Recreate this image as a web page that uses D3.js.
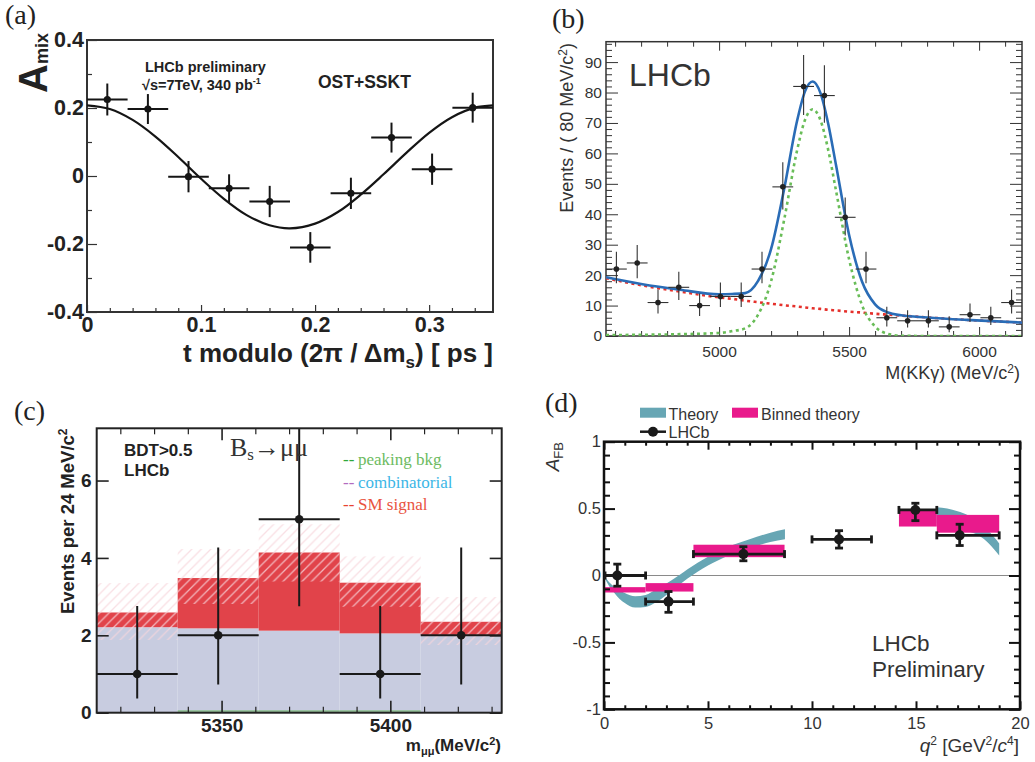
<!DOCTYPE html>
<html>
<head>
<meta charset="utf-8">
<script src="https://cdn.jsdelivr.net/npm/d3@7/dist/d3.min.js"></script>
<style>
  body { margin: 0; background: #fff; }
  svg { display: block; }
</style>
</head>
<body>
<div id="app"></div>
<script>
// ---------- (a) mixing asymmetry ----------
const mixT = [0.0178, 0.0534, 0.089, 0.1246, 0.1602, 0.1958, 0.2314, 0.267, 0.3026, 0.3382];
const mixA = [0.225, 0.197, -0.002, -0.036, -0.075, -0.21, -0.051, 0.113, 0.02, 0.201];
const mixErr = [0.047, 0.044, 0.046, 0.041, 0.046, 0.045, 0.046, 0.044, 0.046, 0.044];
const mixHalfBin = 0.0178;
const mixFitT = [0, 0.02, 0.04, 0.06, 0.08, 0.10, 0.12, 0.14, 0.16, 0.178, 0.20, 0.22, 0.24, 0.26, 0.28, 0.30, 0.32, 0.34, 0.356];
const mixFitA = [0.208, 0.197, 0.165, 0.116, 0.056, -0.008, -0.067, -0.115, -0.145, -0.154, -0.140, -0.106, -0.055, 0.005, 0.068, 0.127, 0.173, 0.201, 0.208];

// ---------- (b) M(KKgamma) ----------
const kkgMass = [4605, 4685, 4765, 4845, 4925, 5005, 5085, 5165, 5245, 5325, 5405, 5485, 5565, 5645, 5725, 5805, 5885, 5965, 6045, 6125];
const kkgEvents = [22, 24, 11, 16, 10, 13, 13, 22, 49, 82, 79, 39, 22, 6, 5, 5, 3, 7, 6, 11];
const kkgUp = [27.7, 29.9, 15.3, 21.1, 14, 17.6, 17.6, 27.7, 57.1, 92.3, 89, 45.5, 27.7, 9.6, 8.5, 8.5, 6.5, 10.7, 9.6, 15.3];
const kkgDn = [17.3, 19, 7.4, 11.8, 6.6, 9.5, 9.5, 17.3, 41.6, 72.6, 70.1, 33, 17.3, 3.1, 2.8, 2.8, 1.2, 4.6, 3.6, 7.4];
const kkgHalfBin = 40;
const fitMass = [4565, 4700, 4850, 5000, 5050, 5100, 5150, 5200, 5250, 5300, 5330, 5360, 5390, 5420, 5450, 5500, 5550, 5600, 5650, 5700, 5800, 5950, 6165];
const fitSignal = [0.3, 0.4, 0.6, 1.0, 1.6, 2.5, 7, 18, 38.1, 61, 70.9, 74.5, 70.9, 61, 47.6, 25.2, 10.1, 3.1, 0.7, 0.1, 0, 0, 0];
const fitBkg = [19, 16.7, 14.6, 12.7, 12.2, 11.6, 11.1, 10.6, 10.1, 9.7, 9.4, 9.1, 8.9, 8.6, 8.4, 8.0, 7.7, 7.3, 7.0, 6.7, 6.1, 5.3, 4.4];
const fitTotal = [19.3, 17.1, 15.2, 13.7, 13.8, 14.1, 18.1, 28.6, 48.2, 70.7, 80.3, 83.6, 79.8, 69.6, 56.0, 33.2, 17.8, 10.4, 7.7, 6.8, 6.1, 5.3, 4.4];

// ---------- (c) Bs -> mu mu ----------
const bsEdges = [5313, 5337, 5361, 5385, 5409, 5433];
const bsCombinatorial = [2.21, 2.18, 2.12, 2.05, 2.01];
const bsSMSignal = [0.38, 1.30, 2.02, 1.31, 0.34];
const bsPeaking = [0, 0.03, 0.03, 0.03, 0];
const bsBandLo = [1.88, 2.81, 3.39, 2.74, 1.75];
const bsBandHi = [3.35, 4.23, 4.87, 4.04, 2.99];
const bsObserved = [1, 2, 5, 1, 2];
const bsObsDn = [0.37, 0.73, 2.75, 0.37, 0.73];
const bsObsUp = [2.76, 4.27, 7.6, 2.76, 4.27];

// ---------- (d) A_FB vs q2 ----------
const thLowQ = [0, 0.25, 0.5, 0.75, 1, 1.5, 2, 2.5, 3, 3.5, 4, 5, 6, 7, 8, 8.7];
const thLowHi = [0.0, -0.05, -0.085, -0.11, -0.13, -0.155, -0.145, -0.105, -0.06, -0.01, 0.045, 0.14, 0.215, 0.27, 0.32, 0.345];
const thLowLo = [-0.01, -0.08, -0.13, -0.175, -0.205, -0.24, -0.235, -0.2, -0.145, -0.085, -0.025, 0.075, 0.15, 0.205, 0.25, 0.27];
const thHighQ = [16, 16.5, 17, 17.5, 18, 18.5, 19];
const thHighHi = [0.51, 0.5, 0.48, 0.45, 0.40, 0.33, 0.24];
const thHighLo = [0.39, 0.38, 0.36, 0.33, 0.30, 0.24, 0.15];
const binQLo = [0.05, 2, 4.3, 14.18, 16];
const binQHi = [2, 4.3, 8.68, 16, 19];
const binAfbLo = [-0.127, -0.12, 0.137, 0.366, 0.32];
const binAfbHi = [-0.087, -0.057, 0.23, 0.495, 0.453];
const lhcbQ = [0.64, 3.1, 6.7, 11.3, 14.97, 17.1];
const lhcbQLo = [0.05, 2.0, 4.3, 10.0, 14.18, 16.0];
const lhcbQHi = [2.0, 4.3, 8.68, 12.86, 16.0, 19.0];
const lhcbAfb = [0.0, -0.195, 0.16, 0.27, 0.49, 0.30];
const lhcbUp = [0.085, 0.075, 0.055, 0.065, 0.05, 0.083];
const lhcbDn = [0.08, 0.08, 0.05, 0.065, 0.08, 0.076];

const SANS = "'Liberation Sans', Arial, Helvetica, sans-serif";
const SERIF = "'Liberation Serif', 'Times New Roman', serif";

const svg = d3.select("#app").append("svg")
    .attr("width", 1035).attr("height", 762)
    .style("font-family", SANS);

const defs = svg.append("defs");

// ticks drawn inward, optional labels
function axis(g, gen, tr, values, size, o = {}) {
    const a = g.append("g").attr("transform", tr)
        .call(gen.tickValues(values).tickSize(-size).tickPadding(o.pad ?? 4)
            .tickFormat(o.fmt || (() => "")));
    a.attr("font-family", null).attr("font-size", null);
    a.select(".domain").remove();
    a.selectAll("line").attr("stroke", o.color || "#222").attr("stroke-width", o.sw || 1.2);
    a.selectAll("text").attr("fill", o.textColor || "#222")
        .style("font-size", (o.fs || 12) + "px").style("font-weight", o.fw || "normal");
    return a;
}

function clip(id, x, y) {
    defs.append("clipPath").attr("id", id).append("rect")
        .attr("x", x.range()[0]).attr("y", y.range()[1])
        .attr("width", x.range()[1] - x.range()[0]).attr("height", y.range()[0] - y.range()[1]);
    return `url(#${id})`;
}

function panelLabel(txt, x, y) {
    svg.append("text").attr("x", x).attr("y", y).text(txt)
        .style("font-family", SERIF).style("font-size", "28px").attr("fill", "#222");
}

// ===================== (a) =====================
{
    const x = d3.scaleLinear().domain([0, 0.356]).range([87, 493]);
    const y = d3.scaleLinear().domain([-0.4, 0.4]).range([312, 40]);
    const g = svg.append("g");
    const fmt = d => d === 0 ? "0" : d.toFixed(1);

    axis(g, d3.axisLeft(y), "translate(87,0)", [-0.3, -0.1, 0.1, 0.3], 5, { color: "#333" });
    axis(g, d3.axisLeft(y), "translate(87,0)", [-0.4, -0.2, 0, 0.2, 0.4], 10,
        { fmt, fs: 21.5, fw: "bold", pad: 3, color: "#333" });
    axis(g, d3.axisBottom(x), "translate(0,312)",
        [0.02, 0.04, 0.06, 0.08, 0.12, 0.14, 0.16, 0.18, 0.22, 0.24, 0.26, 0.28, 0.32, 0.34], 4, { color: "#333" });
    axis(g, d3.axisBottom(x), "translate(0,312)", [0, 0.1, 0.2, 0.3], 7,
        { fmt, fs: 21.5, fw: "bold", pad: 5, color: "#333" });

    g.append("rect").attr("x", 87).attr("y", 40).attr("width", 406).attr("height", 272)
        .attr("fill", "none").attr("stroke", "#333").attr("stroke-width", 2);

    g.append("path")
        .datum(mixFitT.map((t, i) => [t, mixFitA[i]]))
        .attr("clip-path", clip("clipA", x, y))
        .attr("d", d3.line().x(d => x(d[0])).y(d => y(d[1])).curve(d3.curveCatmullRom))
        .attr("fill", "none").attr("stroke", "#151515").attr("stroke-width", 2.2);

    const pts = g.selectAll(".pa").data(mixT).enter().append("g");
    pts.append("line")
        .attr("x1", d => x(d - mixHalfBin)).attr("x2", d => x(d + mixHalfBin))
        .attr("y1", (d, i) => y(mixA[i])).attr("y2", (d, i) => y(mixA[i]))
        .attr("stroke", "#151515").attr("stroke-width", 2);
    pts.append("line")
        .attr("x1", d => x(d)).attr("x2", d => x(d))
        .attr("y1", (d, i) => y(mixA[i] - mixErr[i])).attr("y2", (d, i) => y(mixA[i] + mixErr[i]))
        .attr("stroke", "#151515").attr("stroke-width", 2);
    pts.append("circle").attr("cx", d => x(d)).attr("cy", (d, i) => y(mixA[i]))
        .attr("r", 3.6).attr("fill", "#151515");

    g.append("text").attr("x", 145).attr("y", 72).text("LHCb preliminary")
        .style("font-size", "14.5px").style("font-weight", "bold").attr("fill", "#222");
    const t2 = g.append("text").attr("x", 142).attr("y", 90)
        .style("font-size", "14.5px").style("font-weight", "bold").attr("fill", "#222");
    t2.append("tspan").text("\u221As=7TeV, 340 pb");
    t2.append("tspan").attr("dy", -6).style("font-size", "9px").text("-1");
    g.append("text").attr("x", 318).attr("y", 88).text("OST+SSKT")
        .style("font-size", "17.5px").style("font-weight", "bold").attr("fill", "#222");

    const xt = g.append("text").attr("x", 493).attr("y", 362).attr("text-anchor", "end")
        .style("font-size", "26px").style("font-weight", "bold").attr("fill", "#222");
    xt.append("tspan").text("t modulo (2\u03C0 / \u0394m");
    xt.append("tspan").attr("dy", 6).style("font-size", "17px").text("s");
    xt.append("tspan").attr("dy", -6).text(") [ ps ]");

    const yt = g.append("text").attr("transform", "translate(47,33) rotate(-90)")
        .attr("text-anchor", "end").style("font-weight", "bold").attr("fill", "#222");
    yt.append("tspan").style("font-size", "40px").text("A");
    yt.append("tspan").attr("dy", 1).style("font-size", "18px").text("mix");

    panelLabel("(a)", 5, 24);
}

// ===================== (b) =====================
{
    const x = d3.scaleLinear().domain([4565, 6165]).range([606, 1022]);
    const y = d3.scaleLinear().domain([0, 96.7]).range([336, 41.7]);
    const g = svg.append("g");
    const c = "#333";
    const minorX = [4600, 4700, 4800, 4900, 5100, 5200, 5300, 5400, 5600, 5700, 5800, 5900, 6100];
    const minorY = [2, 4, 6, 8, 12, 14, 16, 18, 22, 24, 26, 28, 32, 34, 36, 38, 42, 44, 46, 48, 52, 54, 56, 58,
        62, 64, 66, 68, 72, 74, 76, 78, 82, 84, 86, 88, 92, 94, 96];
    const majorY = [0, 10, 20, 30, 40, 50, 60, 70, 80, 90];

    axis(g, d3.axisLeft(y), "translate(606,0)", minorY, 6, { color: c, sw: 1 });
    axis(g, d3.axisLeft(y), "translate(606,0)", majorY, 12,
        { fmt: d3.format("d"), fs: 15.5, pad: 4, color: c, textColor: "#333", sw: 1 });
    axis(g, d3.axisRight(y), "translate(1022,0)", minorY, 6, { color: c, sw: 1 });
    axis(g, d3.axisRight(y), "translate(1022,0)", majorY, 12, { color: c, sw: 1 });
    axis(g, d3.axisBottom(x), "translate(0,336)", minorX, 5, { color: c, sw: 1 });
    axis(g, d3.axisBottom(x), "translate(0,336)", [5000, 5500, 6000], 9,
        { fmt: d3.format("d"), fs: 15.5, pad: 10, color: c, textColor: "#333", sw: 1 });
    axis(g, d3.axisTop(x), "translate(0,41.7)", minorX, 5, { color: c, sw: 1 });
    axis(g, d3.axisTop(x), "translate(0,41.7)", [5000, 5500, 6000], 9, { color: c, sw: 1 });

    g.append("rect").attr("x", 606).attr("y", 41.7).attr("width", 416).attr("height", 294.3)
        .attr("fill", "none").attr("stroke", c).attr("stroke-width", 1.5);

    const cp = clip("clipB", x, y);
    const line = d3.line().x(d => x(d[0])).y(d => y(d[1])).curve(d3.curveMonotoneX);
    const curves = [
        [fitBkg, "#e5302b", "3,3.5"],
        [fitSignal, "#69bd58", "3,3.5"],
        [fitTotal, "#2a6cb6", null]
    ];
    curves.forEach(([vals, col, dash]) => {
        g.append("path").datum(fitMass.map((m, i) => [m, vals[i]]))
            .attr("clip-path", cp).attr("d", line)
            .attr("fill", "none").attr("stroke", col).attr("stroke-width", 2.6)
            .attr("stroke-dasharray", dash);
    });

    const pts = g.selectAll(".pb").data(kkgMass).enter().append("g");
    pts.append("line")
        .attr("x1", d => x(d - kkgHalfBin)).attr("x2", d => x(d + kkgHalfBin))
        .attr("y1", (d, i) => y(kkgEvents[i])).attr("y2", (d, i) => y(kkgEvents[i]))
        .attr("stroke", "#333").attr("stroke-width", 1.1);
    pts.append("line")
        .attr("x1", d => x(d)).attr("x2", d => x(d))
        .attr("y1", (d, i) => y(kkgDn[i])).attr("y2", (d, i) => y(kkgUp[i]))
        .attr("stroke", "#333").attr("stroke-width", 1.1);
    pts.append("circle").attr("cx", d => x(d)).attr("cy", (d, i) => y(kkgEvents[i]))
        .attr("r", 2.8).attr("fill", "#222");

    g.append("text").attr("x", 629).attr("y", 86).text("LHCb")
        .style("font-size", "32px").attr("fill", "#333");

    const yt = g.append("text").attr("transform", "translate(572.5,43) rotate(-90)")
        .attr("text-anchor", "end").style("font-size", "18px").attr("fill", "#333");
    yt.append("tspan").text("Events / ( 80 MeV/c");
    yt.append("tspan").attr("dy", -6).style("font-size", "12px").text("2");
    yt.append("tspan").attr("dy", 6).text(")");

    const xt = g.append("text").attr("x", 1020).attr("y", 379).attr("text-anchor", "end")
        .style("font-size", "18px").attr("fill", "#333");
    xt.append("tspan").text("M(KK\u03B3) (MeV/c");
    xt.append("tspan").attr("dy", -6).style("font-size", "12px").text("2");
    xt.append("tspan").attr("dy", 6).text(")");

    panelLabel("(b)", 552, 28);
}

// ===================== (c) =====================
{
    const x = d3.scaleLinear().domain([5313, 5433]).range([96.7, 501.7]);
    const y = d3.scaleLinear().domain([0, 7.35]).range([712.7, 428.3]);
    const g = svg.append("g");
    const bins = bsCombinatorial.map((v, i) => ({ i, x0: bsEdges[i], x1: bsEdges[i + 1], combi: v, sm: bsSMSignal[i] }));
    const stack = d3.stack().keys(["combi", "sm"])(bins);
    const colors = { combi: "#c8cce0", sm: "#e1434a" };

    stack.forEach(layer => {
        g.selectAll(null).data(layer).enter().append("rect")
            .attr("x", d => x(d.data.x0)).attr("width", d => x(d.data.x1) - x(d.data.x0))
            .attr("y", d => y(d[1])).attr("height", d => y(d[0]) - y(d[1]))
            .attr("fill", colors[layer.key]);
    });

    defs.append("pattern").attr("id", "hatch").attr("patternUnits", "userSpaceOnUse")
        .attr("width", 9.5).attr("height", 9.5)
        .append("path").attr("d", "M-1,1 l2,-2 M0,9.5 l9.5,-9.5 M8.5,10.5 l2,-2")
        .attr("stroke", "rgb(248,214,220)").attr("stroke-opacity", 0.78).attr("stroke-width", 1.3);
    g.selectAll(null).data(bins).enter().append("rect")
        .attr("x", d => x(d.x0)).attr("width", d => x(d.x1) - x(d.x0))
        .attr("y", d => y(bsBandHi[d.i])).attr("height", d => y(bsBandLo[d.i]) - y(bsBandHi[d.i]))
        .attr("fill", "url(#hatch)");

    g.selectAll(null).data(bins.filter(d => bsPeaking[d.i] > 0)).enter().append("line")
        .attr("x1", d => x(d.x0)).attr("x2", d => x(d.x1))
        .attr("y1", d => y(bsPeaking[d.i]) - 0.5).attr("y2", d => y(bsPeaking[d.i]) - 0.5)
        .attr("stroke", "#5cb84c").attr("stroke-width", 0.9);

    const c = "#222";
    const minorX = [5320, 5330, 5340, 5360, 5370, 5380, 5390, 5410, 5420, 5430];
    axis(g, d3.axisLeft(y), "translate(96.7,0)", [0, 2, 4, 6], 12,
        { fmt: d3.format("d"), fs: 19, fw: "bold", pad: 5, color: c, sw: 1.6 });
    axis(g, d3.axisRight(y), "translate(501.7,0)", [0, 2, 4, 6], 12, { color: c, sw: 1.6 });
    axis(g, d3.axisBottom(x), "translate(0,712.7)", minorX, 6, { color: c, sw: 1.2 });
    axis(g, d3.axisBottom(x), "translate(0,712.7)", [5350, 5400], 12,
        { fmt: d3.format("d"), fs: 19, fw: "bold", pad: 6, color: c, sw: 1.6 });
    axis(g, d3.axisTop(x), "translate(0,428.3)", minorX, 6, { color: c, sw: 1.2 });
    axis(g, d3.axisTop(x), "translate(0,428.3)", [5350, 5400], 12, { color: c, sw: 1.6 });

    const cp = clip("clipC", x, y);
    const pts = g.selectAll(".pc").data(bins).enter().append("g").attr("clip-path", cp);
    pts.append("line")
        .attr("x1", d => x(d.x0)).attr("x2", d => x(d.x1))
        .attr("y1", d => y(bsObserved[d.i])).attr("y2", d => y(bsObserved[d.i]))
        .attr("stroke", "#1a1a1a").attr("stroke-width", 2);
    pts.append("line")
        .attr("x1", d => x((d.x0 + d.x1) / 2)).attr("x2", d => x((d.x0 + d.x1) / 2))
        .attr("y1", d => y(bsObsDn[d.i])).attr("y2", d => y(bsObsUp[d.i]))
        .attr("stroke", "#1a1a1a").attr("stroke-width", 2);
    pts.append("circle").attr("cx", d => x((d.x0 + d.x1) / 2)).attr("cy", d => y(bsObserved[d.i]))
        .attr("r", 4.3).attr("fill", "#1a1a1a");

    g.append("rect").attr("x", 96.7).attr("y", 428.3).attr("width", 405).attr("height", 284.4)
        .attr("fill", "none").attr("stroke", c).attr("stroke-width", 2);

    g.append("text").attr("x", 124).attr("y", 456).text("BDT>0.5")
        .style("font-size", "17px").style("font-weight", "bold").attr("fill", "#222");
    g.append("text").attr("x", 124).attr("y", 476).text("LHCb")
        .style("font-size", "17px").style("font-weight", "bold").attr("fill", "#222");
    const bt = g.append("text").attr("x", 230).attr("y", 456)
        .style("font-family", SERIF).style("font-size", "26px").attr("fill", "#333");
    bt.append("tspan").text("B");
    bt.append("tspan").attr("dy", 4).style("font-size", "17px").text("s");
    bt.append("tspan").attr("dy", -4).text("\u2192\u03BC\u03BC");

    const legend = [
        ["peaking bkg", "#2fa83a", "#6dbb5f"],
        ["combinatorial", "#b36bbf", "#3cb6e6"],
        ["SM signal", "#e84330", "#e9533f"]
    ];
    legend.forEach(([lab, dashCol, txtCol], i) => {
        const t = g.append("text").attr("x", 343).attr("y", 465 + i * 22.5)
            .style("font-family", SERIF).style("font-size", "17px");
        t.append("tspan").attr("fill", dashCol).text("--");
        t.append("tspan").attr("x", 358).attr("fill", txtCol).text(lab);
    });

    const yt = g.append("text").attr("transform", "translate(74,428.5) rotate(-90)")
        .attr("text-anchor", "end").style("font-size", "18.5px").style("font-weight", "bold").attr("fill", "#222");
    yt.append("tspan").text("Events per 24 MeV/c");
    yt.append("tspan").attr("dy", -7).style("font-size", "12px").text("2");

    const xt = g.append("text").attr("x", 501).attr("y", 750.5).attr("text-anchor", "end")
        .style("font-size", "17px").style("font-weight", "bold").attr("fill", "#222");
    xt.append("tspan").text("m");
    xt.append("tspan").attr("dy", 4).style("font-size", "11px").text("\u03BC\u03BC");
    xt.append("tspan").attr("dy", -4).text("(MeV/c");
    xt.append("tspan").attr("dy", -6).style("font-size", "11px").text("2");
    xt.append("tspan").attr("dy", 6).text(")");

    panelLabel("(c)", 14, 420);
}

// ===================== (d) =====================
{
    const x = d3.scaleLinear().domain([0, 20]).range([604, 1020]);
    const y = d3.scaleLinear().domain([-1, 1]).range([709.3, 441.7]);
    const g = svg.append("g");
    const c = "#111";
    const cp = clip("clipD", x, y);

    g.append("line").attr("x1", 604).attr("x2", 1020).attr("y1", y(0)).attr("y2", y(0))
        .attr("stroke", "#8a8a8a").attr("stroke-width", 1);

    const area = d3.area().x(d => x(d[0])).y0(d => y(d[1])).y1(d => y(d[2])).curve(d3.curveMonotoneX);
    [[thLowQ, thLowLo, thLowHi], [thHighQ, thHighLo, thHighHi]].forEach(([q, lo, hi]) => {
        g.append("path").datum(q.map((v, i) => [v, lo[i], hi[i]]))
            .attr("clip-path", cp).attr("d", area).attr("fill", "#67a6b4");
    });

    g.selectAll(null).data(binQLo).enter().append("rect")
        .attr("x", d => x(d)).attr("width", (d, i) => x(binQHi[i]) - x(d))
        .attr("y", (d, i) => y(binAfbHi[i])).attr("height", (d, i) => y(binAfbLo[i]) - y(binAfbHi[i]))
        .attr("fill", "#e91a8c");

    const minorX = [1, 2, 3, 4, 6, 7, 8, 9, 11, 12, 13, 14, 16, 17, 18, 19];
    const minorY = [-0.9, -0.8, -0.7, -0.6, -0.4, -0.3, -0.2, -0.1, 0.1, 0.2, 0.3, 0.4, 0.6, 0.7, 0.8, 0.9];
    const fmtY = d => d === 0 ? "0" : (Number.isInteger(d) ? d.toFixed(0) : d.toFixed(1));
    axis(g, d3.axisLeft(y), "translate(604,0)", minorY, 6, { color: c, sw: 2 });
    axis(g, d3.axisLeft(y), "translate(604,0)", [-1, -0.5, 0, 0.5, 1], 11,
        { fmt: fmtY, fs: 16.5, pad: 3, color: c, textColor: "#333", sw: 2 });
    axis(g, d3.axisRight(y), "translate(1020,0)", minorY, 6, { color: c, sw: 2 });
    axis(g, d3.axisRight(y), "translate(1020,0)", [-1, -0.5, 0, 0.5, 1], 11, { color: c, sw: 2 });
    axis(g, d3.axisBottom(x), "translate(0,709.3)", minorX, 4, { color: c, sw: 2 });
    axis(g, d3.axisBottom(x), "translate(0,709.3)", [0, 5, 10, 15, 20], 8,
        { fmt: d3.format("d"), fs: 16.5, pad: 8, color: c, textColor: "#333", sw: 2 });
    axis(g, d3.axisTop(x), "translate(0,441.7)", minorX, 4, { color: c, sw: 2 });
    axis(g, d3.axisTop(x), "translate(0,441.7)", [0, 5, 10, 15, 20], 8, { color: c, sw: 2 });

    g.append("rect").attr("x", 604).attr("y", 441.7).attr("width", 416).attr("height", 267.6)
        .attr("fill", "none").attr("stroke", c).attr("stroke-width", 2.5);

    const cap = 4;
    const pts = g.selectAll(".pd").data(lhcbQ).enter().append("g");
    const stroke = s => s.attr("stroke", "#1a1a1a").attr("stroke-width", 2.8);
    pts.append("line").call(stroke)
        .attr("x1", (d, i) => x(lhcbQLo[i])).attr("x2", (d, i) => x(lhcbQHi[i]))
        .attr("y1", (d, i) => y(lhcbAfb[i])).attr("y2", (d, i) => y(lhcbAfb[i]));
    pts.append("line").call(stroke)
        .attr("x1", (d, i) => x(lhcbQLo[i])).attr("x2", (d, i) => x(lhcbQLo[i]))
        .attr("y1", (d, i) => y(lhcbAfb[i]) - cap).attr("y2", (d, i) => y(lhcbAfb[i]) + cap);
    pts.append("line").call(stroke)
        .attr("x1", (d, i) => x(lhcbQHi[i])).attr("x2", (d, i) => x(lhcbQHi[i]))
        .attr("y1", (d, i) => y(lhcbAfb[i]) - cap).attr("y2", (d, i) => y(lhcbAfb[i]) + cap);
    pts.append("line").call(stroke)
        .attr("x1", d => x(d)).attr("x2", d => x(d))
        .attr("y1", (d, i) => y(lhcbAfb[i] - lhcbDn[i])).attr("y2", (d, i) => y(lhcbAfb[i] + lhcbUp[i]));
    [lhcbUp, lhcbDn].forEach((e, k) => {
        pts.append("line").call(stroke)
            .attr("x1", d => x(d) - cap).attr("x2", d => x(d) + cap)
            .attr("y1", (d, i) => y(lhcbAfb[i] + (k ? -e[i] : e[i])))
            .attr("y2", (d, i) => y(lhcbAfb[i] + (k ? -e[i] : e[i])));
    });
    pts.append("circle").attr("cx", d => x(d)).attr("cy", (d, i) => y(lhcbAfb[i]))
        .attr("r", 5).attr("fill", "#1a1a1a");

    // legend
    g.append("rect").attr("x", 640).attr("y", 407.7).attr("width", 26).attr("height", 10).attr("fill", "#67a6b4");
    g.append("text").attr("x", 668.5).attr("y", 420).text("Theory").style("font-size", "16px").attr("fill", "#333");
    g.append("rect").attr("x", 732).attr("y", 407.7).attr("width", 26).attr("height", 10).attr("fill", "#e91a8c");
    g.append("text").attr("x", 761).attr("y", 420).text("Binned theory").style("font-size", "16px").attr("fill", "#333");
    g.append("line").attr("x1", 640).attr("x2", 666).attr("y1", 431.7).attr("y2", 431.7)
        .attr("stroke", "#1a1a1a").attr("stroke-width", 2.5);
    g.append("circle").attr("cx", 653).attr("cy", 431.7).attr("r", 5).attr("fill", "#1a1a1a");
    g.append("text").attr("x", 668.5).attr("y", 437.5).text("LHCb").style("font-size", "16px").attr("fill", "#333");

    g.append("text").attr("x", 872).attr("y", 650.7).text("LHCb").style("font-size", "22.5px").attr("fill", "#333");
    g.append("text").attr("x", 872).attr("y", 676.7).text("Preliminary").style("font-size", "22.5px").attr("fill", "#333");

    const yt = g.append("text").attr("transform", "translate(559,442) rotate(-90)")
        .attr("text-anchor", "end").attr("fill", "#333");
    yt.append("tspan").style("font-size", "19px").style("font-style", "italic").text("A");
    yt.append("tspan").attr("dy", 4).style("font-size", "13px").text("FB");

    const xt = g.append("text").attr("x", 1019).attr("y", 752).attr("text-anchor", "end")
        .style("font-size", "19px").attr("fill", "#333");
    xt.append("tspan").style("font-style", "italic").text("q");
    xt.append("tspan").attr("dy", -7).style("font-size", "12px").text("2");
    xt.append("tspan").attr("dy", 7).text(" [GeV");
    xt.append("tspan").attr("dy", -7).style("font-size", "12px").text("2");
    xt.append("tspan").attr("dy", 7).text("/");
    xt.append("tspan").style("font-style", "italic").text("c");
    xt.append("tspan").attr("dy", -7).style("font-size", "12px").text("4");
    xt.append("tspan").attr("dy", 7).text("]");

    panelLabel("(d)", 545, 412);
}
</script>
</body>
</html>
